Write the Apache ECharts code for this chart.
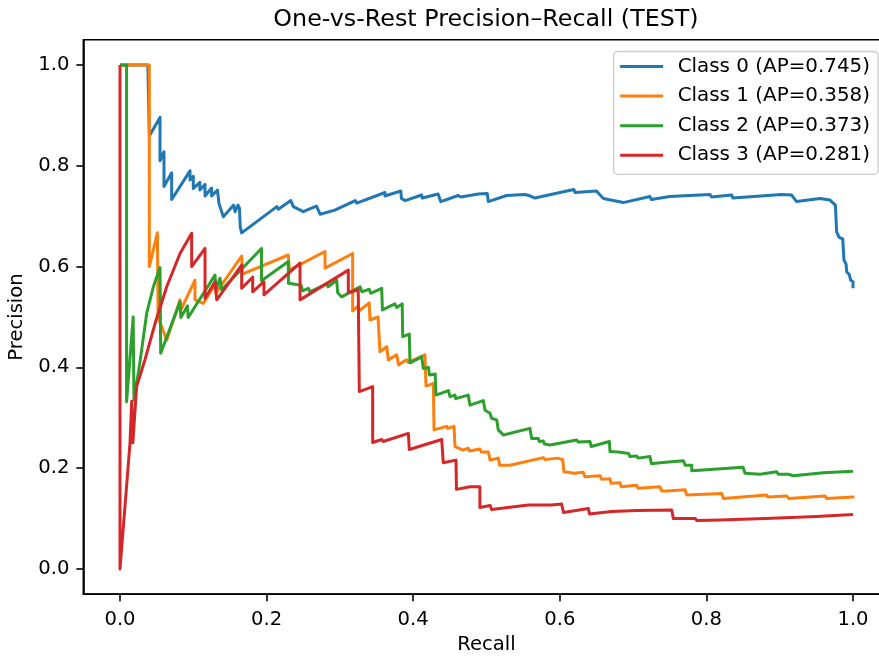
<!DOCTYPE html>
<html>
<head>
<meta charset="utf-8">
<script src="https://cdn.jsdelivr.net/npm/echarts@6.0.0/dist/echarts.min.js"></script>
<style>
html, body { margin: 0; padding: 0; background: #fff; }
#chart { width: 879px; height: 656px; }
</style>
</head>
<body>
<div id="chart"></div>
<script>
// tick positions shared by both axes
const tickValues = [0, 0.2, 0.4, 0.6, 0.8, 1.0];
const classNames = ['Class 0 (AP=0.745)', 'Class 1 (AP=0.358)', 'Class 2 (AP=0.373)', 'Class 3 (AP=0.281)'];
const classColors = ['#1f77b4', '#ff7f0e', '#2ca02c', '#d62728'];

// [recall, precision]
const class0 = [
  [0, 1], [0.038, 1], [0.040, 0.859], [0.0546, 0.896], [0.0546, 0.810], [0.060, 0.828], [0.060, 0.759],
  [0.0705, 0.786], [0.0705, 0.733], [0.0955, 0.790], [0.0955, 0.772], [0.100, 0.779], [0.100, 0.755],
  [0.109, 0.767], [0.109, 0.752], [0.116, 0.763], [0.116, 0.740], [0.125, 0.756], [0.125, 0.740],
  [0.133, 0.752], [0.135, 0.725], [0.141, 0.699], [0.155, 0.722], [0.157, 0.709], [0.161, 0.722],
  [0.163, 0.716], [0.164, 0.679], [0.166, 0.667], [0.214, 0.719], [0.216, 0.714], [0.233, 0.731],
  [0.2365, 0.719], [0.250, 0.709], [0.2547, 0.712], [0.268, 0.720], [0.273, 0.704], [0.293, 0.712],
  [0.321, 0.731], [0.323, 0.726], [0.3615, 0.747], [0.3615, 0.740], [0.383, 0.750], [0.384, 0.735],
  [0.389, 0.731], [0.4115, 0.742], [0.4125, 0.736], [0.434, 0.744], [0.4375, 0.729], [0.4615, 0.741],
  [0.465, 0.738], [0.489, 0.744], [0.501, 0.745], [0.5025, 0.729], [0.5275, 0.741], [0.5525, 0.743],
  [0.560, 0.740], [0.566, 0.736], [0.619, 0.753], [0.621, 0.747], [0.650, 0.750], [0.655, 0.742],
  [0.6595, 0.735], [0.6865, 0.727], [0.723, 0.739], [0.725, 0.733], [0.750, 0.739], [0.805, 0.743],
  [0.807, 0.738], [0.8345, 0.742], [0.836, 0.736], [0.9027, 0.743], [0.9163, 0.742], [0.923, 0.729],
  [0.955, 0.735], [0.9686, 0.732], [0.973, 0.726], [0.976, 0.722], [0.9777, 0.669], [0.981, 0.658],
  [0.986, 0.655], [0.9877, 0.613], [0.9905, 0.605], [0.9914, 0.590], [0.995, 0.584], [0.9968, 0.573],
  [1.0, 0.570], [1.0, 0.557]
];
const class1 = [
  [0, 1], [0.040, 1], [0.040, 0.600], [0.051, 0.667], [0.052, 0.500], [0.0637, 0.454], [0.0819, 0.534],
  [0.083, 0.514], [0.1023, 0.573], [0.1023, 0.534], [0.1137, 0.527], [0.130, 0.566], [0.131, 0.548],
  [0.166, 0.621], [0.167, 0.585], [0.2296, 0.623], [0.231, 0.593], [0.2797, 0.630], [0.2797, 0.597],
  [0.3174, 0.626], [0.3174, 0.512], [0.325, 0.522], [0.326, 0.512], [0.340, 0.528], [0.341, 0.494],
  [0.352, 0.500], [0.3547, 0.431], [0.364, 0.441], [0.366, 0.415], [0.3775, 0.425], [0.380, 0.405],
  [0.391, 0.415], [0.393, 0.410], [0.416, 0.425], [0.4175, 0.363], [0.4275, 0.368], [0.4284, 0.276],
  [0.4457, 0.283], [0.447, 0.279], [0.4557, 0.283], [0.457, 0.243], [0.468, 0.236], [0.475, 0.240],
  [0.477, 0.234], [0.491, 0.238], [0.493, 0.232], [0.5025, 0.232], [0.505, 0.216], [0.516, 0.220],
  [0.518, 0.206], [0.532, 0.206], [0.5775, 0.221], [0.580, 0.217], [0.597, 0.220], [0.604, 0.217],
  [0.6057, 0.193], [0.620, 0.190], [0.632, 0.192], [0.6344, 0.183], [0.655, 0.185], [0.657, 0.178],
  [0.6685, 0.179], [0.670, 0.170], [0.682, 0.171], [0.684, 0.163], [0.705, 0.166], [0.707, 0.160],
  [0.7367, 0.163], [0.739, 0.155], [0.746, 0.155], [0.747, 0.152], [0.771, 0.157], [0.773, 0.147],
  [0.821, 0.150], [0.823, 0.140], [0.882, 0.147], [0.884, 0.143], [0.9095, 0.145], [0.912, 0.140],
  [0.962, 0.145], [0.964, 0.140], [1.0, 0.143], [1.0, 0.140]
];
const class2 = [
  [0, 1], [0.009, 1], [0.009, 0.332], [0.018, 0.500], [0.019, 0.335], [0.027, 0.408], [0.0364, 0.507],
  [0.0455, 0.560], [0.0546, 0.598], [0.0555, 0.428], [0.0819, 0.530], [0.083, 0.499], [0.092, 0.522],
  [0.093, 0.499], [0.1296, 0.583], [0.131, 0.555], [0.1364, 0.577], [0.1387, 0.554], [0.193, 0.636],
  [0.193, 0.572], [0.2297, 0.610], [0.2297, 0.567], [0.247, 0.563], [0.249, 0.552], [0.257, 0.557],
  [0.259, 0.550], [0.282, 0.566], [0.284, 0.560], [0.2956, 0.573], [0.297, 0.548], [0.3025, 0.540],
  [0.3275, 0.560], [0.330, 0.550], [0.340, 0.555], [0.342, 0.547], [0.357, 0.557], [0.358, 0.514],
  [0.375, 0.526], [0.3775, 0.519], [0.385, 0.526], [0.3857, 0.461], [0.3947, 0.466], [0.3956, 0.409],
  [0.4115, 0.421], [0.4138, 0.398], [0.421, 0.400], [0.422, 0.385], [0.430, 0.387], [0.4311, 0.345],
  [0.448, 0.354], [0.4502, 0.342], [0.457, 0.345], [0.458, 0.338], [0.475, 0.345], [0.4775, 0.325],
  [0.4957, 0.334], [0.498, 0.315], [0.5048, 0.309], [0.507, 0.299], [0.514, 0.296], [0.516, 0.276],
  [0.523, 0.266], [0.5593, 0.279], [0.5616, 0.259], [0.5707, 0.259], [0.572, 0.253], [0.5775, 0.254],
  [0.579, 0.248], [0.5866, 0.246], [0.623, 0.256], [0.625, 0.252], [0.641, 0.253], [0.643, 0.243],
  [0.6676, 0.253], [0.6685, 0.233], [0.680, 0.232], [0.682, 0.229], [0.694, 0.229], [0.6957, 0.223],
  [0.705, 0.224], [0.707, 0.220], [0.723, 0.223], [0.725, 0.209], [0.7367, 0.211], [0.7685, 0.215],
  [0.771, 0.206], [0.780, 0.206], [0.780, 0.195], [0.850, 0.202], [0.8527, 0.190], [0.873, 0.188],
  [0.896, 0.193], [0.898, 0.188], [0.912, 0.188], [0.9186, 0.185], [0.9595, 0.191], [1.0, 0.194]
];
const class3 = [
  [0, 1], [0, 0], [0.0136, 0.249], [0.016, 0.333], [0.0175, 0.250], [0.0227, 0.362], [0.034, 0.415],
  [0.0478, 0.487], [0.0637, 0.560], [0.0819, 0.626], [0.0978, 0.666], [0.0978, 0.600], [0.116, 0.636],
  [0.116, 0.537], [0.1296, 0.570], [0.132, 0.534], [0.166, 0.603], [0.166, 0.557], [0.181, 0.579],
  [0.181, 0.550], [0.1964, 0.570], [0.1964, 0.544], [0.2456, 0.607], [0.2456, 0.534], [0.3115, 0.593],
  [0.3115, 0.548], [0.325, 0.554], [0.3265, 0.352], [0.3447, 0.362], [0.3447, 0.251], [0.357, 0.257],
  [0.359, 0.253], [0.3934, 0.269], [0.3947, 0.237], [0.4389, 0.257], [0.441, 0.211], [0.4584, 0.216],
  [0.459, 0.158], [0.4775, 0.163], [0.491, 0.163], [0.491, 0.122], [0.505, 0.126], [0.507, 0.118],
  [0.557, 0.127], [0.559, 0.124], [0.589, 0.127], [0.6025, 0.129], [0.605, 0.112], [0.639, 0.120],
  [0.6405, 0.109], [0.6707, 0.114], [0.672, 0.111], [0.705, 0.116], [0.706, 0.113], [0.7527, 0.117],
  [0.755, 0.100], [0.785, 0.100], [0.787, 0.096], [0.8186, 0.097], [0.820, 0.095], [0.880, 0.100],
  [0.882, 0.098], [0.950, 0.104], [0.952, 0.102], [1.0, 0.108]
];
const classData = [class0, class1, class2, class3];

const font = 'DejaVu Sans';
const chart = echarts.init(document.getElementById('chart'));

const axisCommon = {
  type: 'value',
  min: -0.05,
  max: 1.05,
  axisLine: { show: true, onZero: false, lineStyle: { color: '#000', width: 1.6 } },
  axisTick: { show: true, customValues: tickValues, length: 7, lineStyle: { color: '#000', width: 1.6 } },
  axisLabel: {
    customValues: tickValues,
    formatter: v => v.toFixed(1),
    fontSize: 19.6,
    fontFamily: font,
    color: '#000',
    margin: 14
  },
  splitLine: { show: false },
  nameLocation: 'middle',
  nameTextStyle: { fontSize: 19.6, fontFamily: font, color: '#000' }
};

const option = {
  animation: false,
  backgroundColor: '#fff',
  title: {
    text: 'One-vs-Rest Precision\u2013Recall (TEST)',
    left: 481,
    textAlign: 'center',
    top: 3,
    textStyle: { fontSize: 23.8, fontWeight: 'normal', fontFamily: font, color: '#000' }
  },
  grid: {
    left: 83.35,
    top: 39.8,
    width: 806.3,
    height: 554.4,
    show: true,
    borderColor: '#000',
    borderWidth: 1.6,
    containLabel: false,
    outerBoundsMode: 'none'
  },
  legend: {
    orient: 'vertical',
    right: 1,
    top: 51.5,
    data: classNames.map(n => ({ name: n, icon: 'rect' })),
    selectedMode: false,
    itemWidth: 43,
    itemHeight: 3,
    itemGap: 7.6,
    padding: [4, 8, 8, 6.5],
    backgroundColor: 'rgba(255,255,255,0.8)',
    borderColor: '#cccccc',
    borderWidth: 1.3,
    borderRadius: 4,
    textStyle: { fontSize: 19.9, fontFamily: font, color: '#000', lineHeight: 22, padding: [0, 0, 0, 9.5] }
  },
  xAxis: Object.assign({}, axisCommon, {
    name: 'Recall',
    nameGap: 36,
    axisLabel: Object.assign({}, axisCommon.axisLabel, { margin: 16 })
  }),
  yAxis: Object.assign({}, axisCommon, { name: 'Precision', nameGap: 45 }),
  series: classData.map((d, i) => ({
    name: classNames[i],
    type: 'line',
    data: d,
    symbol: 'none',
    color: classColors[i],
    lineStyle: { width: 3, color: classColors[i], join: 'round' },
    emphasis: { disabled: true }
  }))
};

chart.setOption(option);
</script>
</body>
</html>
